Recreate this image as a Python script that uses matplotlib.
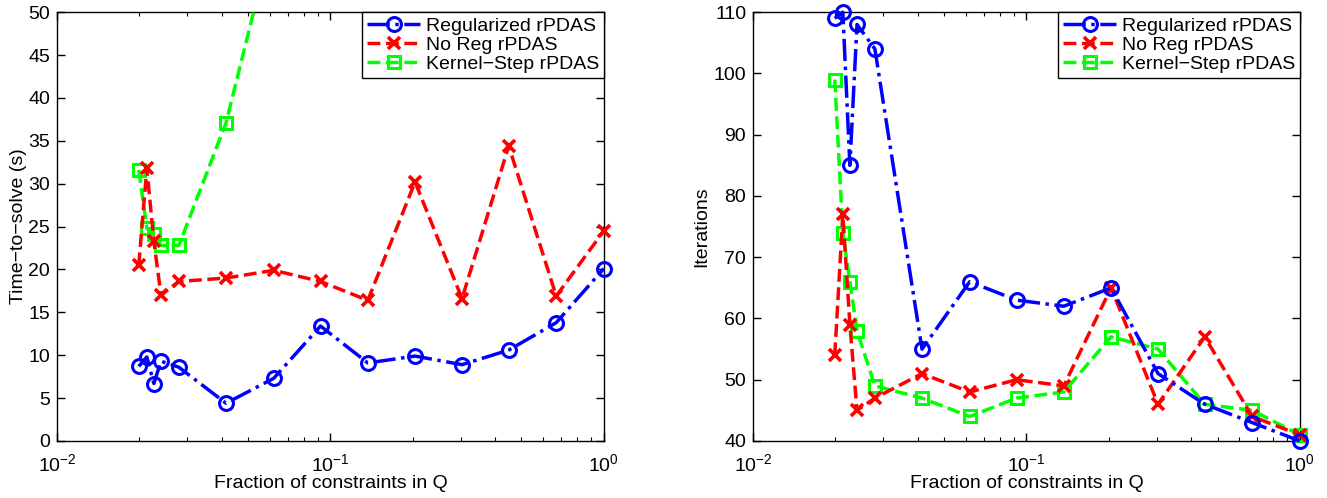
import numpy as np
import matplotlib
matplotlib.use('Agg')
import matplotlib.pyplot as plt
from matplotlib.ticker import LogLocator, NullFormatter

plt.rcParams['font.family'] = ['Liberation Sans', 'DejaVu Sans']
plt.rcParams['mathtext.default'] = 'regular'
plt.rcParams['font.size'] = 14

# fraction of constraints in Q (shared by all series)
frac = [0.0199, 0.0213, 0.0226, 0.0240, 0.0279, 0.0415, 0.0620, 0.0920,
        0.1370, 0.2040, 0.3030, 0.4490, 0.6700, 1.0]

# left panel: time-to-solve (s)
time_reg = [8.7, 9.8, 6.7, 9.3, 8.6, 4.4, 7.3, 13.4, 9.1, 9.9, 8.9, 10.6, 13.8, 20.1]
time_noreg = [20.5, 31.8, 23.3, 17.0, 18.6, 19.0, 19.9, 18.6, 16.4, 30.2, 16.6, 34.4, 16.9, 24.5]
time_kernel = [31.6, 24.8, 24.1, 22.8, 22.8, 37.1, 59.4]

# right panel: iterations
it_reg = [109, 110, 85, 108, 104, 55, 66, 63, 62, 65, 51, 46, 43, 40]
it_noreg = [54, 77, 59, 45, 47, 51, 48, 50, 49, 65, 46, 57, 44, 41]
it_kernel = [99, 74, 66, 58, 49, 47, 44, 47, 48, 57, 55, 46, 45, 41]

labels = ['Regularized rPDAS', 'No Reg rPDAS', 'Kernel\u2212Step rPDAS']

fig = plt.figure(figsize=(13.27, 4.98), dpi=100)
ax1 = fig.add_axes([0.043, 0.1145, 0.412, 0.861])
ax2 = fig.add_axes([0.5675, 0.1145, 0.412, 0.861])

blue = dict(color=(0, 0, 1), ls='-.', marker='o', mfc='none', ms=10, mew=2.2, lw=2.5)
red = dict(color=(1, 0, 0), ls='--', marker='x', ms=8, mew=2.6, lw=2.5)
green = dict(color=(0, 1, 0), ls='--', marker='s', mfc='none', ms=9, mew=2.2, lw=2.5)

ax1.plot(frac, time_reg, label=labels[0], clip_on=False, zorder=5, **blue)
ax1.plot(frac, time_noreg, label=labels[1], clip_on=False, zorder=4, **red)
ax1.plot(frac[:len(time_kernel)], time_kernel, label=labels[2], zorder=3, **green)
ax1.set_ylim(0, 50)
ax1.set_yticks(range(0, 51, 5))
ax1.set_ylabel('Time\u2212to\u2212solve (s)', labelpad=1)

ax2.plot(frac, it_reg, label=labels[0], clip_on=False, zorder=5, **blue)
ax2.plot(frac, it_noreg, label=labels[1], clip_on=False, zorder=4, **red)
ax2.plot(frac, it_kernel, label=labels[2], clip_on=False, zorder=3, **green)
ax2.set_ylim(40, 110)
ax2.set_yticks(range(40, 111, 10))
ax2.set_ylabel('Iterations', labelpad=2)

for ax in (ax1, ax2):
    ax.set_xscale('log')
    ax.set_xlim(1e-2, 1)
    ax.set_xticks([1e-2, 1e-1, 1])
    ax.xaxis.set_minor_locator(LogLocator(base=10, subs=np.arange(2, 10)))
    ax.xaxis.set_minor_formatter(NullFormatter())
    ax.set_xlabel('Fraction of constraints in Q', labelpad=0)
    ax.tick_params(which='both', direction='in', top=True, right=True, labelsize=14)
    ax.tick_params(axis='x', which='major', pad=9)
    ax.tick_params(axis='y', pad=5)
    ax.tick_params(which='major', length=6, width=1)
    ax.tick_params(which='minor', length=3, width=0.8)
    for s in ax.spines.values():
        s.set_linewidth(1)
    leg = ax.legend(loc='upper right', fancybox=False, framealpha=1, edgecolor='black',
                    borderpad=0.25, labelspacing=0.08, handlelength=2.7, handletextpad=0.3,
                    borderaxespad=0, fontsize=14)
    leg.get_frame().set_linewidth(1)

fig.savefig('out.png', dpi=100)
